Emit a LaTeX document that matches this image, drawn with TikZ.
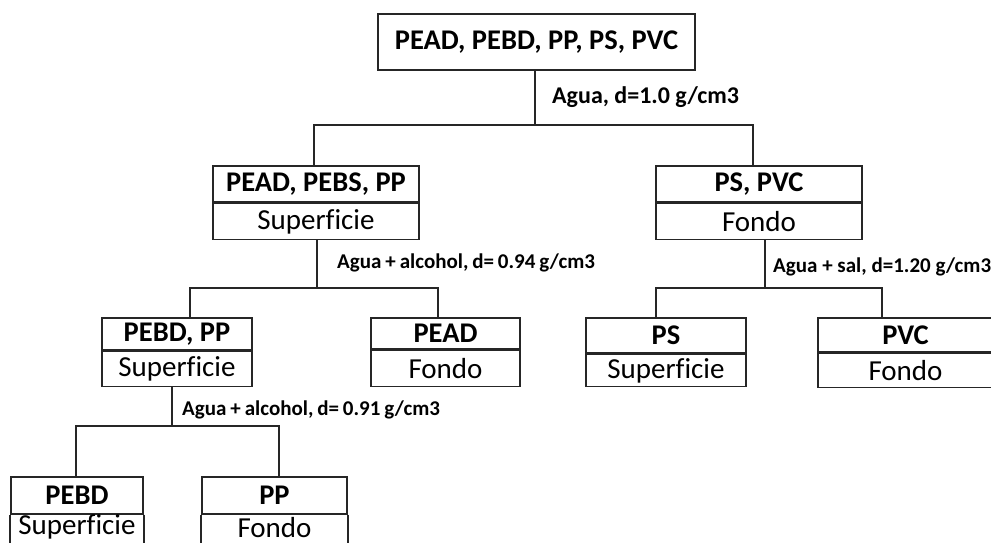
\documentclass[tikz,border=0pt]{standalone}
\usepackage{fontspec}
\setmainfont[Ligatures=NoCommon]{Carlito}
\begin{document}
\begin{tikzpicture}[x=1pt,y=-1pt,
  boxline/.style={draw=black!85, line width=1.6pt},
  hd/.style={boxline, inner sep=0pt, anchor=north, font=\fontsize{28.5}{28.5}\selectfont\bfseries},
  bd/.style={boxline, inner sep=0pt, anchor=north, font=\fontsize{29}{29}\selectfont},
  bdopen/.style={inner sep=0pt, anchor=north, font=\fontsize{29}{29}\selectfont},
  lbl/.style={anchor=west, inner sep=0pt, font=\fontsize{21}{21}\selectfont\bfseries},
  wire/.style={draw=black!85, line width=1.6pt}]
\useasboundingbox (0,0) rectangle (991,542);
\clip (0,0) rectangle (991,542);
% root
\node[hd, minimum width=317pt, minimum height=56pt] (R) at (536.5,13) {PEAD, PEBD, PP, PS, PVC};
% level 2
\node[hd, minimum width=206pt, minimum height=36pt] (A) at (316,165) {PEAD, PEBS, PP};
\node[bd, minimum width=206pt, minimum height=36pt] (Ab) at (A.south) {Superficie};
\node[hd, minimum width=206pt, minimum height=36pt] (B) at (759,165) {PS, PVC};
\node[bd, minimum width=206pt, minimum height=36pt] (Bb) at (B.south) {Fondo};
% level 3
\node[hd, minimum width=150pt, minimum height=32pt] (C) at (177,317) {PEBD, PP};
\node[bd, minimum width=150pt, minimum height=35pt] (Cb) at (C.south) {Superficie};
\node[hd, minimum width=149pt, minimum height=31pt] (D) at (445.5,317) {PEAD};
\node[bd, minimum width=149pt, minimum height=36pt] (Db) at (D.south) {Fondo};
\node[hd, minimum width=160pt, minimum height=35pt] (E) at (666,317) {PS};
\node[bd, minimum width=160pt, minimum height=32pt] (Eb) at (E.south) {Superficie};
\node[hd, minimum width=175pt, minimum height=34pt] (F) at (905.5,317) {PVC};
\node[bd, minimum width=175pt, minimum height=34pt] (Fb) at (F.south) {Fondo};
% level 4 (cut by the lower edge)
\node[hd, minimum width=132pt, minimum height=37pt] (G) at (77,476) {PEBD};
\node[bdopen, minimum width=132pt, minimum height=25pt] (Gb) at (G.south) {Superficie};
\node[hd, minimum width=145pt, minimum height=37pt] (H) at (274.5,476) {PP};
\node[bdopen, minimum width=145pt, minimum height=25pt] (Hb) at (H.south) {Fondo};
\draw[wire] (G.south west) -- ++(0,40) (G.south east) -- ++(0,40);
\draw[wire] (H.south west) -- ++(0,40) (H.south east) -- ++(0,40);
% junctions
\coordinate (j0) at (535,125);
\coordinate (j1) at (317,288);
\coordinate (j2) at (765,288);
\coordinate (j3) at (172,426);
% connectors
\draw[wire] (R.south -| j0) -- (j0);
\draw[wire] ([xshift=-2pt]A.north) |- (j0) -| ([xshift=-6pt]B.north);
\draw[wire] (Ab.south -| j1) -- (j1);
\draw[wire] ([xshift=13pt]C.north) |- (j1) -| ([xshift=-7.5pt]D.north);
\draw[wire] (Bb.south -| j2) -- (j2);
\draw[wire] ([xshift=-10pt]E.north) |- (j2) -| ([xshift=-23.5pt]F.north);
\draw[wire] (Cb.south -| j3) -- (j3);
\draw[wire] ([xshift=-1pt]G.north) |- (j3) -| ([xshift=4.5pt]H.north);
% labels
\node[lbl, font=\fontsize{24}{24}\selectfont\bfseries] (L0) at (552,97) {Agua, d=1.0 g/cm3};
\node[lbl] (L1) at (337,263) {\spaceskip=3.9pt Agua + alcohol, d= 0.94 g/cm3};
\node[lbl] (L2) at (773,267) {Agua + sal, d=1.20 g/cm3};
\node[lbl] (L3) at (182,410) {\spaceskip=3.9pt Agua + alcohol, d= 0.91 g/cm3};
\end{tikzpicture}
\end{document}
